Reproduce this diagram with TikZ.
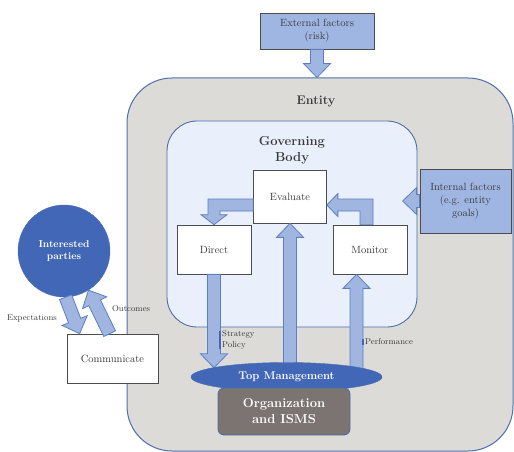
\documentclass[tikz,border=0pt]{standalone}
\usetikzlibrary{calc,shapes.geometric}
\definecolor{entityfill}{HTML}{DDDBD8}
\definecolor{frameblue}{HTML}{4A6EB0}
\definecolor{govfill}{HTML}{E9EFFB}
\definecolor{arrowfill}{HTML}{A0B6E0}
\definecolor{arrowline}{HTML}{5B7FC2}
\definecolor{factorfill}{HTML}{9FB5E2}
\definecolor{darkblue}{HTML}{4267B6}
\definecolor{orgfill}{HTML}{7B7471}
\definecolor{txt}{HTML}{3A3A3A}
\newcommand{\fatarrow}[2]{%
\coordinate (fa-s) at (#1);
\coordinate (fa-t) at (#2);
\coordinate (fa-h) at ($(fa-t)!14pt!(fa-s)$);
\draw[blockarrow] ($(fa-s)!6.5pt!90:(fa-t)$) -- ($(fa-h)!6.5pt!90:(fa-t)$) -- ($(fa-h)!13.5pt!90:(fa-t)$) -- (fa-t)
  -- ($(fa-h)!13.5pt!-90:(fa-t)$) -- ($(fa-h)!6.5pt!-90:(fa-t)$) -- ($(fa-s)!6.5pt!-90:(fa-t)$) -- cycle;}
\tikzset{
entitybox/.style={draw=frameblue,line width=1pt,fill=entityfill,rounded corners=45pt,minimum width=386pt,minimum height=373pt},
govbox/.style={draw=frameblue,line width=0.9pt,fill=govfill,rounded corners=30pt,minimum width=250pt,minimum height=206pt},
title/.style={font=\fontsize{13}{16}\selectfont\bfseries,align=center},
stepbox/.style={draw=black!70,line width=0.7pt,fill=white,minimum width=74pt,minimum height=49pt,font=\fontsize{10.5}{13}\selectfont},
factorbox/.style={draw=black!70,line width=0.8pt,fill=factorfill,align=center,font=\fontsize{10.5}{13}\selectfont},
blockarrow/.style={fill=arrowfill,draw=arrowline,line width=0.8pt,line join=miter},
tmshape/.style={ellipse,inner sep=0pt,minimum width=191pt,minimum height=29pt},
smalllabel/.style={font=\fontsize{8.5}{10.5}\selectfont,align=left,inner sep=2pt},
labelbar/.style={draw=darkblue,line width=1.3pt}
}
\begin{document}
\begin{tikzpicture}[x=1pt,y=-1pt,every node/.style={text=txt}]
\useasboundingbox (0,0) rectangle (514,452);
\node[entitybox] (entity) at (320,264.5) {};
\node[title,font=\fontsize{12.5}{15}\selectfont\bfseries] (entitytitle) at (316,101) {Entity};
\node[govbox] (governing) at (292,224) {};
\node[title] (govtitle) at (292,150) {Governing\\Body};
\node[stepbox,minimum width=73pt,minimum height=53pt] (evaluate) at (290,196.5) {Evaluate};
\node[stepbox] (direct) at (214,249.5) {Direct};
\node[stepbox] (monitor) at (370,249.5) {Monitor};
\node[factorbox,minimum width=91pt,minimum height=64pt] (internal) at (465.5,201) {Internal factors\\(e.g. entity\\goals)};
\node[factorbox,minimum width=114pt,minimum height=36pt] (external) at (317,31) {External factors\\(risk)};
\node[tmshape] (tm) at (286.5,377) {};
\node[stepbox,minimum width=91pt] (communicate) at (112.5,358.5) {Communicate};
\node[circle,fill=darkblue,draw=frameblue,minimum size=92pt,inner sep=0pt,text=white,align=center,
  font=\fontsize{10}{12.5}\selectfont\bfseries] (parties) at (64,251) {Interested\\parties};
\fatarrow{external.south}{external.south |- entity.north}
\fatarrow{internal.west}{[xshift=-17pt]internal.west}
\draw[blockarrow] let \p1=([yshift=-8.5pt]evaluate.west), \p2=(direct.north) in
  (\x1,\y1+6pt) -- (\x2-6pt,\y1+6pt) -- (\x2-6pt,\y2+10pt) -- (\x2-13pt,\y2+10pt) -- (\p2)
  -- (\x2+13pt,\y2+10pt) -- (\x2+6pt,\y2+10pt) -- (\x2+6pt,\y1-6pt) -- (\x1,\y1-6pt) -- cycle;
\draw[blockarrow] let \p1=([xshift=-3.5pt]monitor.north), \p2=([yshift=-8.5pt]evaluate.east) in
  (\x1-6.5pt,\y1) -- (\x1-6.5pt,\y2-6pt) -- (\x2+11pt,\y2-6pt) -- (\x2+11pt,\y2-11.5pt) -- (\p2)
  -- (\x2+11pt,\y2+11.5pt) -- (\x2+11pt,\y2+6pt) -- (\x1+6.5pt,\y2+6pt) -- (\x1+6.5pt,\y1) -- cycle;
\coordinate (monin) at ([xshift=-13.5pt]monitor.south);
\fatarrow{direct.south}{direct.south |- tm.173}
\fatarrow{evaluate.south |- tm.center}{evaluate.south}
\fatarrow{monin |- tm.center}{monin}
\node[tmshape,fill=darkblue,draw=frameblue,text=white,font=\fontsize{11.2}{13}\selectfont\bfseries] at (tm) {Top Management};
\node[draw=frameblue,line width=0.8pt,fill=orgfill,rounded corners=6pt,minimum width=132pt,minimum height=47pt,
  text=white,align=center,font=\fontsize{13}{16}\selectfont\bfseries] (org) at (284,411.5) {Organization\\and ISMS};
\node[smalllabel,anchor=west] (strategy) at (220,340) {Strategy\\Policy};
\draw[labelbar] ([yshift=-2pt]strategy.north west) -- ([yshift=2pt]strategy.south west);
\node[smalllabel,anchor=west] (performance) at (363,342) {Performance};
\draw[labelbar] ([yshift=-2pt]performance.north west) -- ([yshift=2pt]performance.south west);
\fatarrow{parties.-88}{[xshift=13pt]communicate.north west}
\fatarrow{[xshift=43pt]communicate.north west}{parties.-58}
\node[smalllabel,anchor=east] (expectations) at (59,318) {Expectations};
\node[smalllabel,anchor=west] (outcomes) at (110,309) {Outcomes};
\end{tikzpicture}
\end{document}
